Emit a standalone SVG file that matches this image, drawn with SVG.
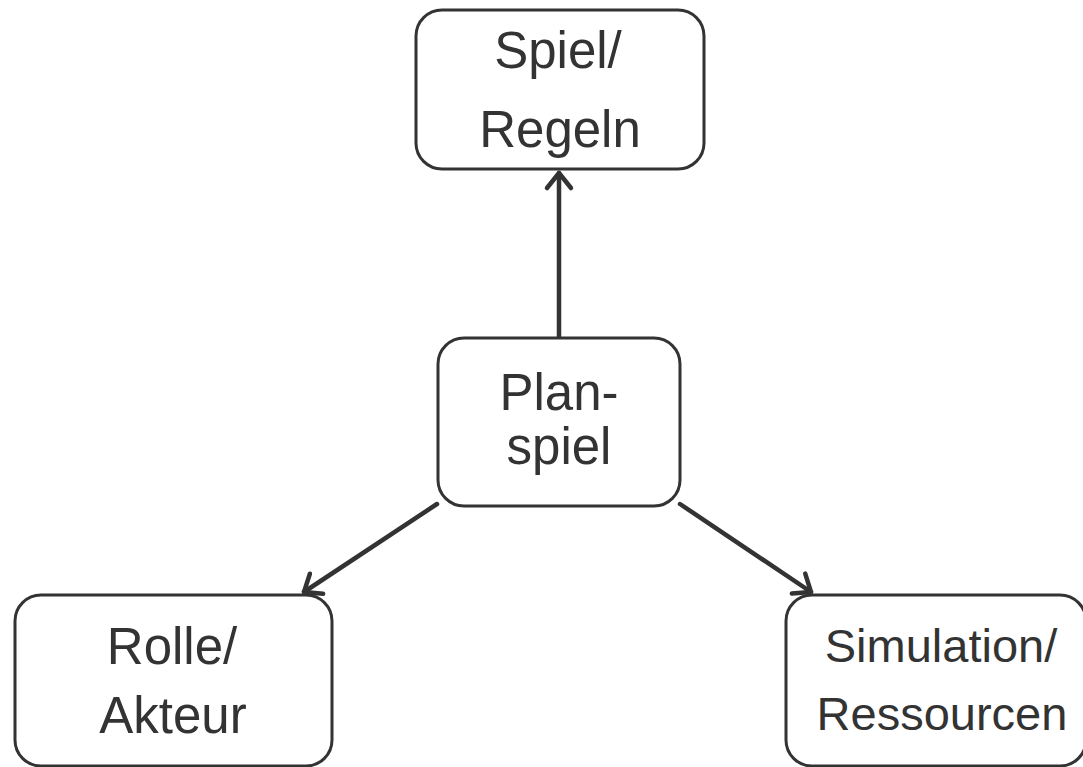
<svg xmlns="http://www.w3.org/2000/svg" width="1083" height="767" viewBox="0 0 1083 767">
  <style>
    .box { fill: #ffffff; stroke: #333333; stroke-width: 3; }
    .lbl { font-family: "Liberation Sans", Arial, sans-serif; font-size: 51px; fill: #333333; text-anchor: middle; }
    .lbl-sm { font-size: 47px; }
    .edge { stroke: #333333; stroke-width: 4.5; fill: none; stroke-linecap: round; }
  </style>
  <defs>
    <marker id="arrow" markerUnits="userSpaceOnUse" markerWidth="40" markerHeight="40" viewBox="-20 -20 40 40" refX="0" refY="0" orient="auto">
      <path d="M -15 -12 L 0 0 L -15 12" fill="none" stroke="#333333" stroke-width="4.5" stroke-linecap="round" stroke-linejoin="round"/>
    </marker>
  </defs>

  <rect width="1083" height="767" fill="#ffffff"/>

  <!-- connectors -->
  <g id="connectors">
    <line class="edge" x1="559" y1="337" x2="559" y2="173" marker-end="url(#arrow)"/>
    <line class="edge" x1="437" y1="504" x2="304" y2="592" marker-end="url(#arrow)"/>
    <line class="edge" x1="680" y1="504" x2="811" y2="592" marker-end="url(#arrow)"/>
  </g>

  <!-- nodes -->
  <g id="node-regeln">
    <rect class="box" x="416" y="10" width="288" height="159" rx="26"/>
    <text class="lbl" x="558" y="68">Spiel/</text>
    <text class="lbl" x="560" y="147">Regeln</text>
  </g>

  <g id="node-planspiel">
    <rect class="box" x="438" y="338" width="242" height="168" rx="26"/>
    <text class="lbl" x="559" y="410">Plan-</text>
    <text class="lbl" x="559" y="464">spiel</text>
  </g>

  <g id="node-rolle">
    <rect class="box" x="15" y="595" width="317" height="171" rx="26"/>
    <text class="lbl" x="172" y="664">Rolle/</text>
    <text class="lbl" x="173" y="733">Akteur</text>
  </g>

  <g id="node-simulation">
    <rect class="box" x="786" y="595" width="300" height="171" rx="26"/>
    <text class="lbl lbl-sm" x="941" y="662">Simulation/</text>
    <text class="lbl lbl-sm" x="942" y="730">Ressourcen</text>
  </g>
</svg>
